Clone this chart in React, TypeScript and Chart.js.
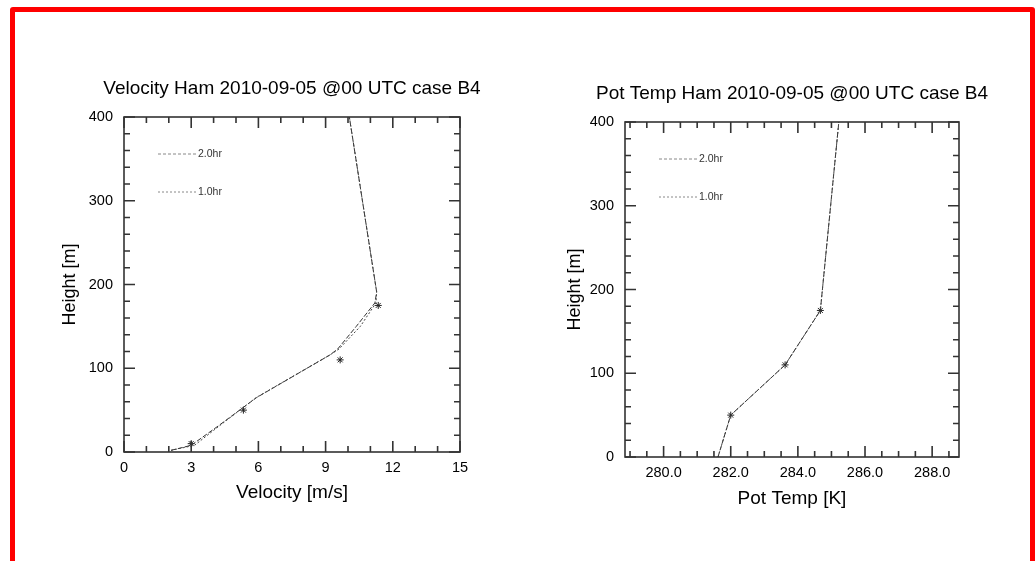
import React, { useEffect, useRef } from "react";
import { Chart, registerables } from "chart.js";

Chart.register(...registerables);

const FONT = '"Liberation Sans", Arial, Helvetica, sans-serif';

// Wind speed profile (model levels)
const VEL_HEIGHTS = [2, 8, 30, 65, 116, 123, 150, 178, 191, 400];
const VEL_2HR = [2.1, 3.0, 4.15, 5.92, 9.2, 9.54, 10.37, 11.2, 11.28, 10.06];
const VEL_1HR = [2.1, 3.15, 4.2, 5.9, 9.2, 9.6, 10.55, 11.25, 11.28, 10.06];

// Wind speed observations
const VEL_OBS_HEIGHTS = [10, 50, 110, 175];
const VEL_OBS = [3.0, 5.33, 9.65, 11.35];

// Potential temperature profile (model levels)
const TEMP_HEIGHTS = [0, 50, 110, 175, 400];
const TEMP_2HR = [281.62, 282.0, 283.62, 284.67, 285.22];
const TEMP_1HR = [281.62, 282.0, 283.62, 284.67, 285.22];

// Potential temperature observations
const TEMP_OBS_HEIGHTS = [50, 110, 175];
const TEMP_OBS = [282.0, 283.62, 284.67];

// Axis ticks
const HEIGHT_TICKS = [0, 100, 200, 300, 400];
const VEL_TICKS = [0, 3, 6, 9, 12, 15];
const TEMP_TICKS = [280, 282, 284, 286, 288];

const LEGEND_LABELS = ["2.0hr", "1.0hr"];

const pts = (xs: number[], ys: number[]) => xs.map((x, i) => ({ x, y: ys[i] }));

// Plot title centred over the plot area, frame with inward major/minor ticks
// on all four sides, and the line legend
const framePlugin = {
  id: "frame",
  afterDatasetsDraw(chart: any, _args: any, opts: any) {
    const { ctx, chartArea: a, scales } = chart;
    const xs = scales.x;
    const ys = scales.y;
    ctx.save();

    ctx.fillStyle = "#000";
    ctx.font = `19px ${FONT}`;
    ctx.textAlign = "center";
    ctx.textBaseline = "middle";
    ctx.fillText(opts.title, (a.left + a.right) / 2, opts.titleY);

    ctx.strokeStyle = "#333";
    ctx.lineWidth = 1.6;
    ctx.beginPath();
    const seg = (x1: number, y1: number, x2: number, y2: number) => {
      ctx.moveTo(x1, y1);
      ctx.lineTo(x2, y2);
    };
    const isMajor = (v: number, list: number[]) => list.some((t) => Math.abs(t - v) < 1e-6);
    const start = (min: number, step: number) => Math.ceil(min / step - 1e-9) * step;
    for (let v = start(xs.min, opts.xMinor); v <= xs.max + 1e-9; v += opts.xMinor) {
      const px = xs.getPixelForValue(v);
      const len = isMajor(Math.round(v * 1000) / 1000, opts.xTicks) ? 11 : 6;
      seg(px, a.bottom, px, a.bottom - len);
      seg(px, a.top, px, a.top + len);
    }
    for (let v = start(ys.min, opts.yMinor); v <= ys.max + 1e-9; v += opts.yMinor) {
      const py = ys.getPixelForValue(v);
      const len = isMajor(Math.round(v * 1000) / 1000, opts.yTicks) ? 11 : 6;
      seg(a.left, py, a.left + len, py);
      seg(a.right, py, a.right - len, py);
    }
    ctx.stroke();
    ctx.strokeRect(a.left, a.top, a.right - a.left, a.bottom - a.top);

    // legend
    const dashes = [[3, 2], [2, 2]];
    ctx.font = `10.5px ${FONT}`;
    ctx.textBaseline = "middle";
    ctx.textAlign = "left";
    LEGEND_LABELS.forEach((label, i) => {
      const y = a.top + 37 + i * 38;
      const x0 = a.left + 34;
      ctx.beginPath();
      ctx.strokeStyle = "#888";
      ctx.lineWidth = 1;
      ctx.setLineDash(dashes[i]);
      ctx.moveTo(x0, y);
      ctx.lineTo(x0 + 39, y);
      ctx.stroke();
      ctx.setLineDash([]);
      ctx.fillStyle = "#333";
      ctx.fillText(label, x0 + 40, y);
    });
    ctx.restore();
  },
};

type PanelProps = {
  left: number;
  width: number;
  title: string;
  titleY: number;
  xTitle: string;
  xTitleY: number;
  yTitleX: number;
  area: { left: number; top: number; right: number; bottom: number };
  xMin: number;
  xMax: number;
  xTicks: number[];
  xMinor: number;
  xFmt: (v: number) => string;
  line2: { x: number; y: number }[];
  line1: { x: number; y: number }[];
  obs: { x: number; y: number }[];
};

function Panel(p: PanelProps) {
  const ref = useRef<HTMLCanvasElement | null>(null);
  useEffect(() => {
    if (!ref.current) return;
    const H = 561;
    const chart = new Chart(ref.current, {
      type: "scatter",
      data: {
        datasets: [
          {
            label: "1.0hr",
            data: p.line1,
            showLine: true,
            borderColor: "#444",
            borderWidth: 1,
            borderDash: [2, 2],
            pointRadius: 0,
          },
          {
            label: "2.0hr",
            data: p.line2,
            showLine: true,
            borderColor: "#333",
            borderWidth: 1,
            borderDash: [5, 2],
            pointRadius: 0,
          },
          {
            label: "obs",
            data: p.obs,
            showLine: false,
            pointStyle: "star",
            pointRadius: 3.5,
            borderColor: "#222",
            borderWidth: 1,
            backgroundColor: "#222",
          },
        ],
      },
      options: {
        responsive: false,
        animation: false,
        devicePixelRatio: 1,
        layout: {
          padding: { left: 0, top: p.area.top, right: p.width - p.area.right, bottom: 0 },
        },
        plugins: {
          legend: { display: false },
          tooltip: { enabled: false },
          title: { display: false },
          frame: {
            title: p.title,
            titleY: p.titleY,
            xTicks: p.xTicks,
            xMinor: p.xMinor,
            yTicks: HEIGHT_TICKS,
            yMinor: 20,
          },
        } as any,
        scales: {
          x: {
            type: "linear",
            min: p.xMin,
            max: p.xMax,
            grid: { display: false, drawTicks: false },
            border: { display: false },
            afterBuildTicks: (s: any) => {
              s.ticks = p.xTicks.map((v) => ({ value: v }));
            },
            afterFit: (s: any) => {
              s.height = H - p.area.bottom;
            },
            ticks: {
              padding: 7,
              color: "#000",
              maxRotation: 0,
              font: { family: FONT, size: 14.5 },
              callback: (v: any) => p.xFmt(Number(v)),
            },
            title: {
              display: true,
              text: p.xTitle,
              color: "#000",
              font: { family: FONT, size: 19 },
              padding: { top: 0, bottom: H - p.xTitleY - 11.4 },
            },
          },
          y: {
            type: "linear",
            min: 0,
            max: 400,
            grid: { display: false, drawTicks: false },
            border: { display: false },
            afterBuildTicks: (s: any) => {
              s.ticks = HEIGHT_TICKS.map((v) => ({ value: v }));
            },
            afterFit: (s: any) => {
              s.width = p.area.left;
            },
            ticks: {
              padding: 11,
              color: "#000",
              font: { family: FONT, size: 14.5 },
              callback: (v: any) => String(v),
            },
            title: {
              display: true,
              text: "Height [m]",
              color: "#000",
              font: { family: FONT, size: 18 },
              padding: { top: p.yTitleX - 10.8, bottom: 0 },
            },
          },
        },
      },
      plugins: [framePlugin],
    });
    return () => chart.destroy();
  }, []);
  return (
    <canvas
      ref={ref}
      width={p.width}
      height={561}
      style={{ position: "absolute", left: p.left, top: 0, width: p.width, height: 561 }}
    />
  );
}

export default function App() {
  return (
    <div
      style={{
        position: "fixed",
        left: 0,
        top: 0,
        width: 1035,
        height: 561,
        background: "#fff",
        overflow: "hidden",
      }}
    >
      <div
        style={{
          position: "absolute",
          left: 10,
          top: 7,
          width: 1025,
          height: 620,
          boxSizing: "border-box",
          border: "5px solid #ff0000",
          borderRadius: 3,
        }}
      />
      <Panel
        left={0}
        width={517}
        title="Velocity Ham 2010-09-05 @00 UTC case B4"
        titleY={89}
        xTitle="Velocity [m/s]"
        xTitleY={493}
        yTitleX={70}
        area={{ left: 124, top: 117, right: 460, bottom: 452 }}
        xMin={0}
        xMax={15}
        xTicks={VEL_TICKS}
        xMinor={1}
        xFmt={(v) => String(v)}
        line2={pts(VEL_2HR, VEL_HEIGHTS)}
        line1={pts(VEL_1HR, VEL_HEIGHTS)}
        obs={pts(VEL_OBS, VEL_OBS_HEIGHTS)}
      />
      <Panel
        left={517}
        width={518}
        title="Pot Temp Ham 2010-09-05 @00 UTC case B4"
        titleY={94}
        xTitle="Pot Temp [K]"
        xTitleY={499}
        yTitleX={58}
        area={{ left: 108, top: 122, right: 442, bottom: 457 }}
        xMin={278.85}
        xMax={288.8}
        xTicks={TEMP_TICKS}
        xMinor={0.5}
        xFmt={(v) => v.toFixed(1)}
        line2={pts(TEMP_2HR, TEMP_HEIGHTS)}
        line1={pts(TEMP_1HR, TEMP_HEIGHTS)}
        obs={pts(TEMP_OBS, TEMP_OBS_HEIGHTS)}
      />
    </div>
  );
}
